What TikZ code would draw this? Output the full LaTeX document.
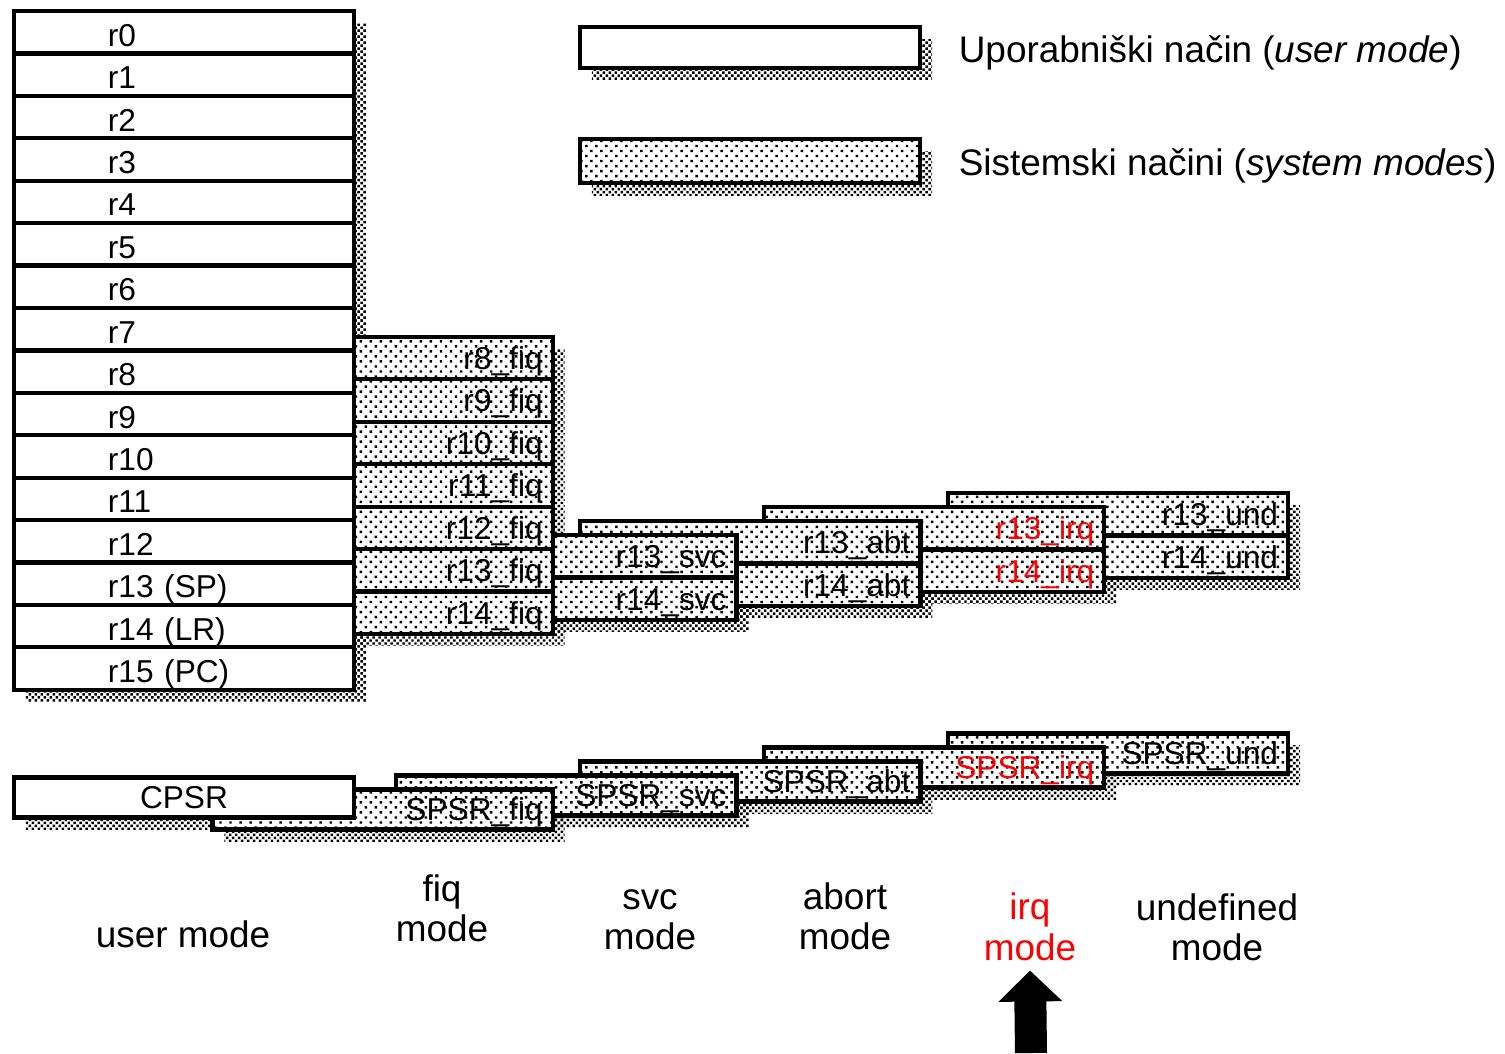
\documentclass[tikz,border=0pt]{standalone}
\usepackage{fontspec}
\setmainfont{Liberation Sans}
\usetikzlibrary{positioning, patterns, backgrounds, arrows.meta}

% sparse dots for the system mode registers, dense dots for the shadows
\pgfdeclarepatternformonly{sysdots}{\pgfqpoint{-0.35pt}{-0.35pt}}{\pgfqpoint{1.8pt}{1.8pt}}{\pgfqpoint{2.85pt}{2.85pt}}{%
	\pgfpathrectangle{\pgfqpoint{-0.35pt}{-0.35pt}}{\pgfqpoint{0.7pt}{0.7pt}}%
	\pgfpathrectangle{\pgfqpoint{1.07pt}{1.07pt}}{\pgfqpoint{0.7pt}{0.7pt}}%
	\pgfusepath{fill}}
\pgfdeclarepatternformonly{shadedots}{\pgfqpoint{-0.35pt}{-0.35pt}}{\pgfqpoint{1.2pt}{1.2pt}}{\pgfqpoint{1.7pt}{1.7pt}}{%
	\pgfpathrectangle{\pgfqpoint{-0.35pt}{-0.35pt}}{\pgfqpoint{0.7pt}{0.7pt}}%
	\pgfpathrectangle{\pgfqpoint{0.5pt}{0.5pt}}{\pgfqpoint{0.7pt}{0.7pt}}%
	\pgfusepath{fill}}

\tikzset{
	userreg/.style={draw, rectangle, line width=1.2pt, outer sep=0pt, fill=white, minimum width=3.4cm, minimum height=0.424cm, inner ysep=0pt, inner xsep=0.94cm, text width=1.52cm, align=left, text height=8pt, text depth=0pt, font=\fontsize{9}{10}\selectfont},
	sysreg/.style={draw, rectangle, line width=1.2pt, outer sep=0pt, preaction={fill=white}, pattern=sysdots, minimum width=3.4cm, minimum height=0.424cm, inner ysep=0pt, inner xsep=0.1cm, text width=3.2cm, align=right, text height=7.5pt, text depth=1pt, font=\fontsize{9}{10}\selectfont},
	% CPSR / SPSR row
	statusreg/.style={userreg, minimum height=0.4cm, inner xsep=0.1cm, text width=3.2cm, align=center, text height=7.5pt, text depth=1pt},
	savedreg/.style={sysreg, minimum height=0.4cm},
	dropband/.style={pattern=shadedots},
	modelabel/.style={align=center, inner sep=0pt, font=\fontsize{10.5}{11.5}\selectfont},
	keytext/.style={anchor=west, inner sep=0pt, font=\fontsize{10.5}{12}\selectfont},
	bigarrow/.style={line width=0.32cm, -{Triangle[length=0.31cm, width=0.62cm]}},
}

\begin{document}
\begin{tikzpicture}[x=0.01cm, y=-0.01cm]
	\useasboundingbox (0,0) rectangle (1505,1053);
	
	% key
	\node (userkey) [userreg, minimum height=0.41cm] at (750,47.5) {};
	\node (syskey) [sysreg, minimum height=0.44cm] at (750,161) {};
	\node (userkeytext) [keytext, right=0.38cm of userkey, yshift=-0.05cm] {Uporabniški način (\textit{user mode})};
	\node (syskeytext) [keytext, right=0.38cm of syskey, yshift=-0.05cm] {Sistemski načini (\textit{system modes})};
	
	% banked registers, back to front
	\node (r13und) [sysreg] at (1118,514.2) {r13\_und};
	\node (r14und) [sysreg, below=0pt of r13und] {r14\_und};
	
	\node (r13irq) [sysreg, text=red, xshift=-1.8375cm, yshift=-0.14cm] at (r13und) {r13\_irq};
	\node (r14irq) [sysreg, text=red, below=0pt of r13irq] {r14\_irq};
	
	\node (r13abt) [sysreg, xshift=-1.8375cm, yshift=-0.14cm] at (r13irq) {r13\_abt};
	\node (r14abt) [sysreg, below=0pt of r13abt] {r14\_abt};
	
	\node (r13svc) [sysreg, xshift=-1.8375cm, yshift=-0.14cm] at (r13abt) {r13\_svc};
	\node (r14svc) [sysreg, below=0pt of r13svc] {r14\_svc};
	
	\node (r13fiq) [sysreg, xshift=-1.8375cm, yshift=-0.14cm] at (r13svc) {r13\_fiq};
	\node (r14fiq) [sysreg, below=0pt of r13fiq] {r14\_fiq};
	\node (r12fiq) [sysreg, above=0pt of r13fiq] {r12\_fiq};
	\node (r11fiq) [sysreg, above=0pt of r12fiq] {r11\_fiq};
	\node (r10fiq) [sysreg, above=0pt of r11fiq] {r10\_fiq};
	\node (r9fiq) [sysreg, above=0pt of r10fiq] {r9\_fiq};
	\node (r8fiq) [sysreg, above=0pt of r9fiq] {r8\_fiq};
	
	% user mode registers
	\node (r0) [userreg] at (184,32.2) {r0};
	\node (r1) [userreg, below=0pt of r0] {r1};
	\node (r2) [userreg, below=0pt of r1] {r2};
	\node (r3) [userreg, below=0pt of r2] {r3};
	\node (r4) [userreg, below=0pt of r3] {r4};
	\node (r5) [userreg, below=0pt of r4] {r5};
	\node (r6) [userreg, below=0pt of r5] {r6};
	\node (r7) [userreg, below=0pt of r6] {r7};
	\node (r8) [userreg, below=0pt of r7] {r8};
	\node (r9) [userreg, below=0pt of r8] {r9};
	\node (r10) [userreg, below=0pt of r9] {r10};
	\node (r11) [userreg, below=0pt of r10] {r11};
	\node (r12) [userreg, below=0pt of r11] {r12};
	\node (r13) [userreg, below=0pt of r12] {r13 (SP)};
	\node (r14) [userreg, below=0pt of r13] {r14 (LR)};
	\node (r15) [userreg, below=0pt of r14] {r15 (PC)};
	
	% status registers
	\node (spsrund) [savedreg] at (1118,753.5) {SPSR\_und};
	\node (spsrirq) [savedreg, text=red, xshift=-1.8375cm, yshift=-0.14cm] at (spsrund) {SPSR\_irq};
	\node (spsrabt) [savedreg, xshift=-1.8375cm, yshift=-0.14cm] at (spsrirq) {SPSR\_abt};
	\node (spsrsvc) [savedreg, xshift=-1.8375cm, yshift=-0.14cm] at (spsrabt) {SPSR\_svc};
	\node (spsrfiq) [savedreg, xshift=-1.8375cm, yshift=-0.14cm] at (spsrsvc) {SPSR\_fiq};
	\node (cpsr) [statusreg] at (184,797.5) {CPSR};
	
	% shadows
	\begin{scope}[on background layer]
		\foreach \reg in {userkey, syskey, r13und, r14und, r13irq, r14irq, r13abt, r14abt, r13svc, r14svc, r8fiq, r9fiq, r10fiq, r11fiq, r12fiq, r13fiq, r14fiq, r0, r1, r2, r3, r4, r5, r6, r7, r8, r9, r10, r11, r12, r13, r14, r15, spsrund, spsrirq, spsrabt, spsrsvc, spsrfiq, cpsr}
			\fill[dropband] ([shift={(12,12)}]\reg.north west) rectangle ([shift={(12,12)}]\reg.south east);
	\end{scope}
	
	% modes
	\node (usermode) [modelabel] at (183,934) {user mode};
	\node (fiqmode) [modelabel] at (442,908) {fiq\\mode};
	\node (svcmode) [modelabel] at (650,919.5) {svc\\mode};
	\node (abtmode) [modelabel] at (845,916) {abort\\mode};
	\node (irqmode) [modelabel, text=red] at (1030,927) {irq\\mode};
	\node (undmode) [modelabel] at (1217,927.5) {undefined\\mode};
	
	\coordinate (arrowfoot) at (1031,1053);
	\draw[bigarrow] (arrowfoot) -- ([yshift=-0.09cm]irqmode.south);
	
\end{tikzpicture}
\end{document}
